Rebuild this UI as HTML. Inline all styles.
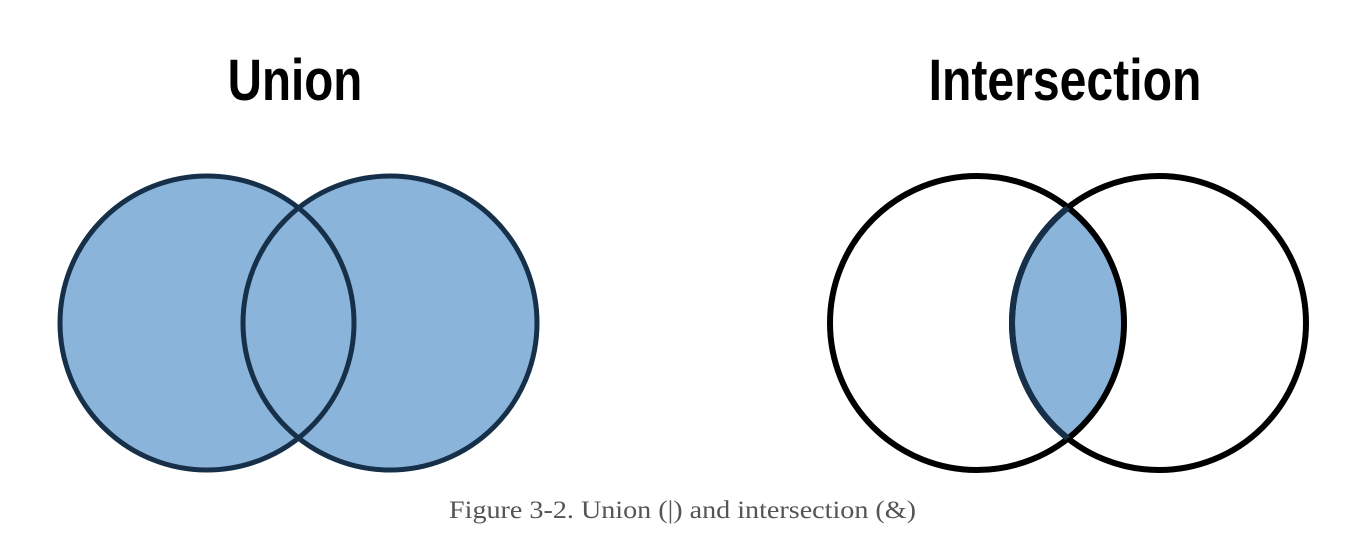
<!DOCTYPE html>
<html><head><meta charset="utf-8"><style>
html,body{margin:0;padding:0;background:#fff;width:1366px;height:558px;overflow:hidden}
svg{display:block}
</style></head><body>
<svg width="1366" height="558" viewBox="0 0 1366 558">
<defs>
<clipPath id="clipL"><circle cx="977" cy="323" r="147"/></clipPath>
</defs>
<g>
<text x="295" y="100" text-anchor="middle" font-family="Liberation Sans, sans-serif" font-weight="bold" font-size="58" transform="translate(295 0) scale(0.82 1) translate(-295 0)" fill="#000">Union</text>
</g>
<g>
<text x="1065" y="100" text-anchor="middle" font-family="Liberation Sans, sans-serif" font-weight="bold" font-size="58" transform="translate(1065 0) scale(0.83 1) translate(-1065 0)" fill="#000">Intersection</text>
</g>
<g>
<circle cx="207" cy="323" r="147" fill="#8ab4d9"/>
<circle cx="390" cy="323" r="147" fill="#8ab4d9"/>
<circle cx="207" cy="323" r="147" fill="none" stroke="#16304a" stroke-width="5"/>
<circle cx="390" cy="323" r="147" fill="none" stroke="#16304a" stroke-width="5"/>
</g>
<g>
<circle cx="1159" cy="323" r="147" fill="#8ab4d9" clip-path="url(#clipL)"/>
<circle cx="977" cy="323" r="147" fill="none" stroke="#000" stroke-width="6"/>
<circle cx="1159" cy="323" r="147" fill="none" stroke="#000" stroke-width="6"/>
<g clip-path="url(#clipL)"><circle cx="1159" cy="323" r="147" fill="none" stroke="#16304a" stroke-width="6"/></g>
</g>
<text x="449" y="518" textLength="467" lengthAdjust="spacingAndGlyphs" font-family="Liberation Serif, serif" font-size="25" fill="#555">Figure 3-2. Union (|) and intersection (&amp;)</text>
</svg>
</body></html>
